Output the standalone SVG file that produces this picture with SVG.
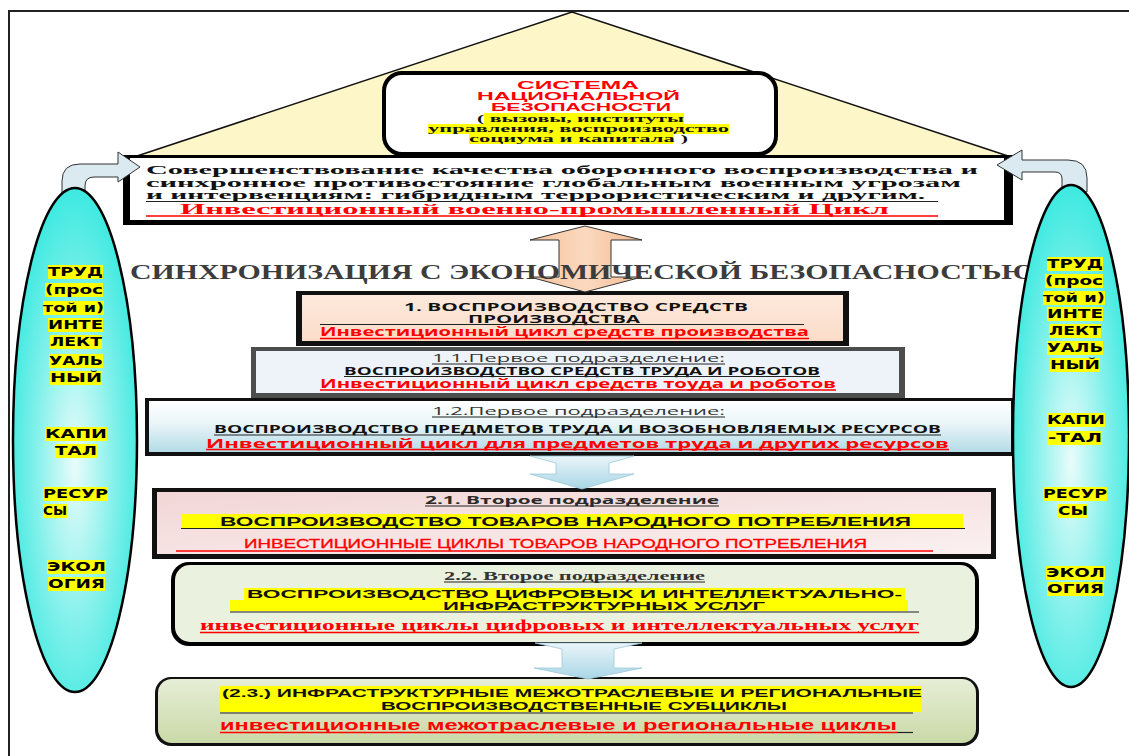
<svg xmlns="http://www.w3.org/2000/svg" width="1129" height="756" viewBox="0 0 1129 756">
<defs>
<style>
.ser{font-family:"Liberation Serif","Times New Roman",serif;font-weight:bold}
.os{font-family:"Open Sans","Liberation Sans",Arial,sans-serif}
.ar{font-family:"Liberation Sans",Arial,sans-serif}
.dv{font-family:"DejaVu Sans",Verdana,sans-serif;font-weight:bold;font-size:11.5px;fill:#000}
.b{font-weight:bold}
.red{fill:#ff0000}
.blk{fill:#111}
.gry{fill:#333}
.ul{stroke:#222;stroke-width:1.2}
.ulr{stroke:#ff0000;stroke-width:1.5}
.hl{fill:#ffff00}
</style>
<linearGradient id="gPeach" x1="0" y1="0" x2="0" y2="1"><stop offset="0" stop-color="#fde9dc"/><stop offset="1" stop-color="#fbdcc8"/></linearGradient>
<linearGradient id="gBlueBox" x1="0" y1="0" x2="0" y2="1"><stop offset="0" stop-color="#ffffff"/><stop offset="0.45" stop-color="#e9f5f8"/><stop offset="1" stop-color="#b3dbe7"/></linearGradient>
<linearGradient id="gPink" x1="0" y1="0" x2="1" y2="1"><stop offset="0" stop-color="#f2d6d6"/><stop offset="1" stop-color="#fbf0f0"/></linearGradient>
<linearGradient id="gOlive" x1="0" y1="0" x2="0" y2="1"><stop offset="0" stop-color="#e6eed6"/><stop offset="1" stop-color="#cad9a8"/></linearGradient>
<linearGradient id="gArrowPeach" x1="0" y1="0" x2="1" y2="0"><stop offset="0" stop-color="#f7c29c"/><stop offset="0.5" stop-color="#fbd9bf"/><stop offset="1" stop-color="#f4b98f"/></linearGradient>
<linearGradient id="gArrowBlue" x1="0" y1="0" x2="0" y2="1"><stop offset="0" stop-color="#eaf5f9"/><stop offset="1" stop-color="#a9d6e6"/></linearGradient>
<radialGradient id="gCyan" cx="0.5" cy="0.55" r="0.6"><stop offset="0" stop-color="#e9fcfb"/><stop offset="0.55" stop-color="#7ff0ea"/><stop offset="1" stop-color="#2ee8de"/></radialGradient>
</defs>

<rect width="1129" height="756" fill="#ffffff"/>
<path d="M9 756 L9 11 L1129 11" fill="none" stroke="#222" stroke-width="2"/>

<g id="roof">
<polygon points="572,12 137,156 1008,156" fill="#fdf6c9" stroke="#111" stroke-width="1.5"/>
</g>

<g id="node-system">
<rect x="384" y="73" width="392" height="81" rx="18" fill="#fff" stroke="#000" stroke-width="4"/>
<rect class="hl" x="484" y="113" width="200" height="11"/>
<rect class="hl" x="428" y="124" width="301" height="10"/>
<rect class="hl" x="469" y="134" width="204" height="10"/>
<text class="ar b red" font-size="11.5" x="517" y="89" textLength="122" lengthAdjust="spacingAndGlyphs">СИСТЕМА</text>
<text class="ar b red" font-size="11.5" x="477" y="100" textLength="203" lengthAdjust="spacingAndGlyphs">НАЦИОНАЛЬНОЙ</text>
<text class="ar b red" font-size="11.5" x="491" y="111" textLength="180" lengthAdjust="spacingAndGlyphs">БЕЗОПАСНОСТИ</text>
<text class="ser blk" font-size="10.5" x="477" y="122" textLength="207" lengthAdjust="spacingAndGlyphs">( вызовы, институты</text>
<text class="ser blk" font-size="10.5" x="428" y="132" textLength="301" lengthAdjust="spacingAndGlyphs">управления, воспроизводство</text>
<text class="ser blk" font-size="10.5" x="469" y="142" textLength="219" lengthAdjust="spacingAndGlyphs">социума и капитала )</text>
</g>

<g id="node-defense">
<rect x="123" y="155" width="890" height="70" fill="#000"/>
<rect x="130" y="158" width="874" height="62" fill="#fff"/>
<text class="ser blk" font-size="12.5" x="146" y="174" textLength="832" lengthAdjust="spacingAndGlyphs">Совершенствование качества оборонного воспроизводства и</text>
<text class="ser blk" font-size="12.5" x="146" y="187" textLength="815" lengthAdjust="spacingAndGlyphs">синхронное противостояние глобальным военным угрозам</text>
<text class="ser blk" font-size="12.5" x="146" y="199" textLength="779" lengthAdjust="spacingAndGlyphs">и интервенциям: гибридным террористическим и другим.</text>
<line class="ul" x1="146" y1="201.5" x2="938" y2="201.5"/>
<text class="ser red" font-size="15" x="180" y="213.5" textLength="709" lengthAdjust="spacingAndGlyphs">Инвестиционный военно-промышленный Цикл</text>
<line class="ulr" x1="146" y1="216" x2="938" y2="216"/>
</g>

<g id="node-means">
<rect x="296" y="291" width="553" height="55" fill="#111"/>
<rect x="302" y="295" width="541" height="46" fill="url(#gPeach)"/>
<text class="os b blk" font-size="10" x="404" y="310.5" textLength="344" lengthAdjust="spacingAndGlyphs">1. ВОСПРОИЗВОДСТВО СРЕДСТВ</text>
<text class="os b blk" font-size="10" x="468" y="322.5" textLength="172" lengthAdjust="spacingAndGlyphs">ПРОИЗВОДСТВА</text>
<line class="ul" x1="320" y1="324.5" x2="804" y2="324.5"/>
<text class="os b red" font-size="11.5" x="320" y="336" textLength="489" lengthAdjust="spacingAndGlyphs">Инвестиционный цикл средств производства</text>
<line class="ulr" x1="320" y1="338.5" x2="809" y2="338.5"/>
</g>

<g id="node-1-1">
<rect x="251" y="347" width="654" height="51" fill="#4d4d4d"/>
<rect x="256" y="351" width="643" height="42" fill="#eef3f9"/>
<text class="os gry" font-size="10.5" x="432" y="362" textLength="293" lengthAdjust="spacingAndGlyphs">1.1.Первое подразделение:</text>
<line class="ul" x1="432" y1="364" x2="725" y2="364"/>
<text class="os b blk" font-size="10.5" x="344" y="374.5" textLength="476" lengthAdjust="spacingAndGlyphs">ВОСПРОИЗВОДСТВО СРЕДСТВ ТРУДА И РОБОТОВ</text>
<line class="ul" x1="344" y1="376.5" x2="820" y2="376.5"/>
<text class="os b red" font-size="11.5" x="320" y="388" textLength="516" lengthAdjust="spacingAndGlyphs">Инвестиционный цикл средств тоуда и роботов</text>
<line class="ulr" x1="320" y1="390" x2="836" y2="390"/>
</g>

<g id="node-1-2">
<rect x="145" y="398" width="870" height="58" fill="#111"/>
<rect x="149" y="401" width="862" height="51" fill="url(#gBlueBox)"/>
<text class="os gry" font-size="11" x="432" y="415" textLength="293" lengthAdjust="spacingAndGlyphs">1.2.Первое подразделение:</text>
<line class="ul" x1="432" y1="417" x2="725" y2="417"/>
<text class="os b blk" font-size="10.5" x="214" y="433" textLength="727" lengthAdjust="spacingAndGlyphs">ВОСПРОИЗВОДСТВО ПРЕДМЕТОВ ТРУДА И ВОЗОБНОВЛЯЕМЫХ РЕСУРСОВ</text>
<line class="ul" x1="214" y1="435" x2="941" y2="435"/>
<text class="os b red" font-size="11.5" x="206" y="447.5" textLength="743" lengthAdjust="spacingAndGlyphs">Инвестиционный цикл для предметов труда и других ресурсов</text>
<line class="ulr" x1="206" y1="449.5" x2="949" y2="449.5"/>
</g>

<g id="node-2-1">
<rect x="152" y="488" width="844" height="71" fill="#111"/>
<rect x="157" y="492" width="834" height="62" fill="url(#gPink)"/>
<text class="os b" fill="#2a2a2a" font-size="11" x="425" y="504" textLength="294" lengthAdjust="spacingAndGlyphs">2.1. Второе подразделение</text>
<line class="ul" x1="425" y1="506" x2="719" y2="506"/>
<rect class="hl" x="181" y="514" width="782" height="14"/>
<text class="ar b blk" font-size="13" x="220" y="526" textLength="691" lengthAdjust="spacingAndGlyphs">ВОСПРОИЗВОДСТВО ТОВАРОВ НАРОДНОГО ПОТРЕБЛЕНИЯ</text>
<line class="ul" x1="181" y1="528.5" x2="965" y2="528.5"/>
<text class="ar red" font-size="12.5" x="244" y="548" textLength="623" lengthAdjust="spacingAndGlyphs" stroke="#ff0000" stroke-width="0.3">ИНВЕСТИЦИОННЫЕ ЦИКЛЫ ТОВАРОВ НАРОДНОГО ПОТРЕБЛЕНИЯ</text>
<line class="ulr" x1="176" y1="551" x2="933" y2="551"/>
</g>

<g id="node-2-2">
<rect x="171" y="562" width="808" height="84" rx="18" fill="#000"/>
<rect x="175" y="565" width="800" height="77" rx="15" fill="#ebf1df"/>
<text class="ser" fill="#333" font-size="11.5" x="444" y="580" textLength="261" lengthAdjust="spacingAndGlyphs">2.2. Второе подразделение</text>
<line class="ul" x1="444" y1="582" x2="705" y2="582"/>
<rect class="hl" x="244" y="588" width="661" height="12"/>
<rect class="hl" x="230" y="600" width="678" height="11"/>
<text class="ar b blk" font-size="11.5" x="247" y="598" textLength="655" lengthAdjust="spacingAndGlyphs">ВОСПРОИЗВОДСТВО ЦИФРОВЫХ И ИНТЕЛЛЕКТУАЛЬНО-</text>
<text class="ar b blk" font-size="11.5" x="443" y="609.5" textLength="322" lengthAdjust="spacingAndGlyphs">ИНФРАСТРУКТУРНЫХ УСЛУГ</text>
<line class="ul" x1="230" y1="612" x2="919" y2="612"/>
<text class="ser red" font-size="15" x="200" y="630" textLength="719" lengthAdjust="spacingAndGlyphs">инвестиционные циклы цифровых и интеллектуальных услуг</text>
<line class="ulr" x1="200" y1="632.5" x2="919" y2="632.5"/>
</g>

<g id="node-2-3">
<rect x="155" y="677" width="824" height="69" rx="16" fill="#111"/>
<rect x="158" y="679" width="818" height="64" rx="14" fill="url(#gOlive)"/>
<rect class="hl" x="220" y="686" width="702" height="13"/>
<rect class="hl" x="220" y="699" width="702" height="13"/>
<text class="ar b blk" font-size="11.5" x="222" y="697" textLength="700" lengthAdjust="spacingAndGlyphs">(2.3.) ИНФРАСТРУКТУРНЫЕ МЕЖОТРАСЛЕВЫЕ И РЕГИОНАЛЬНЫЕ</text>
<text class="ar b blk" font-size="11.5" x="381" y="710" textLength="406" lengthAdjust="spacingAndGlyphs">ВОСПРОИЗВОДСТВЕННЫЕ СУБЦИКЛЫ</text>
<line class="ul" x1="220" y1="713" x2="913" y2="713"/>
<text class="ar b red" font-size="14.5" x="220" y="730" textLength="677" lengthAdjust="spacingAndGlyphs">инвестиционные межотраслевые и региональные циклы</text>
<line class="ulr" x1="220" y1="732.5" x2="897" y2="732.5"/>
<line class="ul" x1="897" y1="732.5" x2="913" y2="732.5"/>
</g>

<g id="connectors">
<path d="M585 226 L642 240 L611 240 L611 277 L642 277 L585 292 L530 277 L559 277 L559 240 L530 240 Z" fill="url(#gArrowPeach)" stroke="#333" stroke-width="1"/>
<path d="M530 456 L634 456 L609 463 L609 474 L634 474 L582 489 L530 474 L556 474 L556 463 Z" fill="url(#gArrowBlue)" stroke="#9cc9d8" stroke-width="0.8"/>
<path d="M535 643 L642 643 L614 649 L614 668 L642 668 L588 679 L534 668 L562 668 L562 649 Z" fill="url(#gArrowBlue)" stroke="#9cc9d8" stroke-width="0.8"/>
<path d="M62 196 L62 181 Q62 164 80 164 L118 164 L118 152 L140 167 L118 182 L118 177 L94 177 Q85 177 85 186 L85 196 Z" fill="#dbeaf0" stroke="#333" stroke-width="1"/>
<path d="M1087 192 L1087 178 Q1087 160 1068 160 L1022 160 L1022 150 L997 165 L1022 180 L1022 172 L1055 172 Q1062 172 1062 179 L1062 192 Z" fill="#dbeaf0" stroke="#333" stroke-width="1"/>
</g>

<g id="sync-label">
<text class="ser" fill="#3c3c3c" font-size="20" x="130" y="279" textLength="905" lengthAdjust="spacingAndGlyphs">СИНХРОНИЗАЦИЯ С ЭКОНОМИЧЕСКОЙ БЕЗОПАСНОСТЬЮ</text>
</g>

<g id="node-resources-left">
<ellipse cx="75" cy="440" rx="62" ry="252" fill="url(#gCyan)" stroke="#000" stroke-width="2.5"/>
<rect class="hl" x="48" y="265" width="55" height="14"/>
<rect class="hl" x="45" y="283" width="58" height="14"/>
<rect class="hl" x="43" y="301" width="61" height="14"/>
<rect class="hl" x="48" y="318" width="55" height="14"/>
<rect class="hl" x="50" y="335" width="52" height="14"/>
<rect class="hl" x="49" y="354" width="54" height="14"/>
<rect class="hl" x="50" y="371" width="52" height="14"/>
<rect class="hl" x="45" y="427" width="62" height="14"/>
<rect class="hl" x="55" y="444" width="42" height="14"/>
<rect class="hl" x="43" y="487" width="65" height="14"/>
<rect class="hl" x="43" y="504" width="24" height="14"/>
<rect class="hl" x="47" y="560" width="59" height="14"/>
<rect class="hl" x="48" y="577" width="57" height="14"/>
<text class="dv" x="48" y="276" textLength="55" lengthAdjust="spacingAndGlyphs">ТРУД</text>
<text class="dv" x="45" y="294" textLength="58" lengthAdjust="spacingAndGlyphs">(прос</text>
<text class="dv" x="43" y="312" textLength="61" lengthAdjust="spacingAndGlyphs">той и)</text>
<text class="dv" x="48" y="329" textLength="55" lengthAdjust="spacingAndGlyphs">ИНТЕ</text>
<text class="dv" x="50" y="346" textLength="52" lengthAdjust="spacingAndGlyphs">ЛЕКТ</text>
<text class="dv" x="49" y="365" textLength="54" lengthAdjust="spacingAndGlyphs">УАЛЬ</text>
<text class="dv" x="50" y="382" textLength="52" lengthAdjust="spacingAndGlyphs">НЫЙ</text>
<text class="dv" x="45" y="438" textLength="62" lengthAdjust="spacingAndGlyphs">КАПИ</text>
<text class="dv" x="55" y="455" textLength="42" lengthAdjust="spacingAndGlyphs">ТАЛ</text>
<text class="dv" x="43" y="498" textLength="65" lengthAdjust="spacingAndGlyphs">РЕСУР</text>
<text class="dv" x="43" y="515" textLength="24" lengthAdjust="spacingAndGlyphs">СЫ</text>
<text class="dv" x="47" y="571" textLength="59" lengthAdjust="spacingAndGlyphs">ЭКОЛ</text>
<text class="dv" x="48" y="588" textLength="57" lengthAdjust="spacingAndGlyphs">ОГИЯ</text>
</g>

<g id="node-resources-right">
<ellipse cx="1071" cy="436" rx="58" ry="251" fill="url(#gCyan)" stroke="#000" stroke-width="2.5"/>
<rect class="hl" x="1047" y="257" width="56" height="14"/>
<rect class="hl" x="1045" y="274" width="58" height="14"/>
<rect class="hl" x="1043" y="291" width="62" height="14"/>
<rect class="hl" x="1047" y="307" width="56" height="14"/>
<rect class="hl" x="1049" y="324" width="52" height="14"/>
<rect class="hl" x="1047" y="341" width="56" height="14"/>
<rect class="hl" x="1050" y="358" width="50" height="14"/>
<rect class="hl" x="1047" y="413" width="58" height="14"/>
<rect class="hl" x="1048" y="431" width="54" height="14"/>
<rect class="hl" x="1043" y="487" width="64" height="14"/>
<rect class="hl" x="1058" y="504" width="30" height="14"/>
<rect class="hl" x="1046" y="566" width="59" height="14"/>
<rect class="hl" x="1047" y="582" width="57" height="14"/>
<text class="dv" x="1047" y="268" textLength="56" lengthAdjust="spacingAndGlyphs">ТРУД</text>
<text class="dv" x="1045" y="285" textLength="58" lengthAdjust="spacingAndGlyphs">(прос</text>
<text class="dv" x="1043" y="302" textLength="62" lengthAdjust="spacingAndGlyphs">той и)</text>
<text class="dv" x="1047" y="318" textLength="56" lengthAdjust="spacingAndGlyphs">ИНТЕ</text>
<text class="dv" x="1049" y="335" textLength="52" lengthAdjust="spacingAndGlyphs">ЛЕКТ</text>
<text class="dv" x="1047" y="352" textLength="56" lengthAdjust="spacingAndGlyphs">УАЛЬ</text>
<text class="dv" x="1050" y="369" textLength="50" lengthAdjust="spacingAndGlyphs">НЫЙ</text>
<text class="dv" x="1047" y="424" textLength="58" lengthAdjust="spacingAndGlyphs">КАПИ</text>
<text class="dv" x="1048" y="442" textLength="54" lengthAdjust="spacingAndGlyphs">-ТАЛ</text>
<text class="dv" x="1043" y="498" textLength="64" lengthAdjust="spacingAndGlyphs">РЕСУР</text>
<text class="dv" x="1058" y="515" textLength="30" lengthAdjust="spacingAndGlyphs">СЫ</text>
<text class="dv" x="1046" y="577" textLength="59" lengthAdjust="spacingAndGlyphs">ЭКОЛ</text>
<text class="dv" x="1047" y="593" textLength="57" lengthAdjust="spacingAndGlyphs">ОГИЯ</text>
</g>
</svg>
